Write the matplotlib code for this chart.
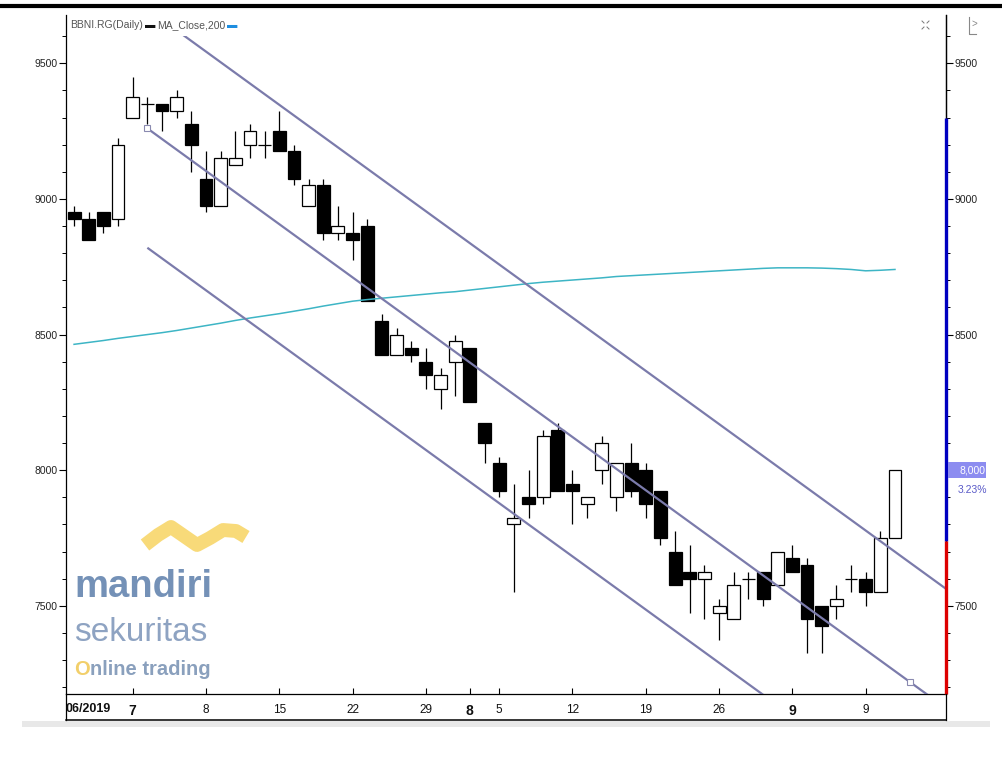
import matplotlib
matplotlib.use('Agg')
import matplotlib.pyplot as plt
from matplotlib.lines import Line2D
from matplotlib.patches import Rectangle
import numpy as np

# ---------------- data ----------------
opens  = [8950, 8925, 8950, 8925, 9300, 9350, 9350, 9325, 9275, 9075,
          8975, 9125, 9200, 9200, 9250, 9175, 8975, 9050, 8875, 8875,
          8900, 8550, 8425, 8450, 8400, 8300, 8400, 8450, 8175, 8025,
          7800, 7900, 7900, 8150, 7950, 7875, 8000, 7900, 8025, 8000,
          7925, 7700, 7625, 7600, 7475, 7450, 7600, 7625, 7575, 7675,
          7650, 7500, 7500, 7600, 7600, 7550, 7750]
highs  = [8975, 8950, 8950, 9225, 9450, 9375, 9350, 9400, 9325, 9175,
          9175, 9250, 9275, 9250, 9325, 9200, 9075, 9075, 8975, 8950,
          8925, 8575, 8525, 8475, 8450, 8375, 8500, 8450, 8175, 8050,
          7950, 8000, 8150, 8175, 8000, 7900, 8125, 8025, 8100, 8025,
          7925, 7775, 7725, 7650, 7525, 7625, 7625, 7625, 7700, 7725,
          7675, 7500, 7575, 7650, 7625, 7775, 8000]
lows   = [8900, 8850, 8875, 8900, 9300, 9275, 9250, 9300, 9100, 8950,
          8975, 9125, 9150, 9150, 9175, 9050, 8975, 8850, 8850, 8775,
          8625, 8425, 8425, 8400, 8300, 8225, 8275, 8250, 8025, 7900,
          7550, 7825, 7875, 7925, 7800, 7825, 7950, 7850, 7900, 7825,
          7725, 7575, 7475, 7450, 7375, 7450, 7525, 7500, 7575, 7625,
          7325, 7325, 7450, 7550, 7500, 7550, 7750]
closes = [8925, 8850, 8900, 9200, 9375, 9350, 9325, 9375, 9200, 8975,
          9150, 9150, 9250, 9200, 9175, 9075, 9050, 8875, 8900, 8850,
          8625, 8425, 8500, 8425, 8350, 8350, 8475, 8250, 8100, 7925,
          7825, 7875, 8125, 7925, 7925, 7900, 8100, 8025, 7925, 7875,
          7750, 7575, 7600, 7625, 7500, 7575, 7600, 7525, 7700, 7625,
          7450, 7425, 7525, 7600, 7550, 7750, 8000]
ma200  = [8464, 8471, 8478, 8486, 8493, 8500, 8507, 8515, 8524, 8533,
          8542, 8552, 8561, 8569, 8577, 8586, 8595, 8605, 8614, 8623,
          8629, 8634, 8639, 8644, 8649, 8654, 8658, 8664, 8670, 8676,
          8682, 8688, 8693, 8697, 8701, 8705, 8709, 8714, 8717, 8720,
          8723, 8726, 8729, 8732, 8735, 8738, 8741, 8744, 8746, 8746,
          8746, 8745, 8743, 8740, 8735, 8737, 8740]

xtick_idx    = [4, 9, 14, 19, 24, 27, 29, 34, 39, 44, 49, 54]
xtick_labels = ['7', '8', '15', '22', '29', '8', '5', '12', '19', '26', '9', '9']
xtick_month  = [True, False, False, False, False, True, False, False, False, False, True, False]
period_label = '06/2019'
yticks = [7500, 8000, 8500, 9000, 9500]

reg_start_idx, reg_start_price = 5, 9260
reg_end_idx, reg_end_price = 57, 7220
channel_offset = 440

last_price = 8000
last_price_label = '8,000'
last_change_label = '3.23%'
bar_blue = (7740, 9300)
bar_red = (7175, 7740)

legend_title = 'BBNI.RG(Daily)'
legend_ma = 'MA_Close,200'

# ---------------- figure ----------------
plt.rcParams['font.family'] = ['Liberation Sans', 'DejaVu Sans']

W, H = 1002, 776
fig = plt.figure(figsize=(W / 100, H / 100), dpi=100)
fig.patch.set_facecolor('white')


def fx(px):
    return px / W


def fy(py):
    return 1 - py / H


L, R, T, B = 66, 946, 15, 694
ax = fig.add_axes([fx(L), fy(B), (R - L) / W, (B - T) / H])
xmin, xmax = -0.55, 59.48
ymin, ymax = 7175, 9678
ax.set_xlim(xmin, xmax)
ax.set_ylim(ymin, ymax)

n = len(opens)
idx = np.arange(n)
o = np.array(opens, float)
c = np.array(closes, float)
up = c >= o
bottoms = np.minimum(o, c)
heights = np.abs(c - o)

ax.vlines(idx, lows, highs, color='black', lw=0.9, zorder=2)
ax.bar(idx[up], heights[up], bottom=bottoms[up], width=0.88,
       facecolor='white', edgecolor='black', lw=0.9, zorder=3)
ax.bar(idx[~up], heights[~up], bottom=bottoms[~up], width=0.88,
       facecolor='black', edgecolor='black', lw=0.9, zorder=3)

# moving average
ax.plot(idx, ma200, color='#3db5c5', lw=1.1, zorder=4)

# regression channel
slope = (reg_end_price - reg_start_price) / (reg_end_idx - reg_start_idx)
xs = np.array([reg_start_idx, xmax + 1])
mid = reg_start_price + slope * (xs - reg_start_idx)
chan_col = '#7b7bab'
for off in (channel_offset, 0, -channel_offset):
    ax.plot(xs, mid + off, color=chan_col, lw=1.6, zorder=4, solid_capstyle='butt')
ax.plot([reg_start_idx, reg_end_idx], [reg_start_price, reg_end_price], 's',
        ms=4, mfc='white', mec='#8a8ab0', mew=0.8, zorder=5)

# axes styling
ax.spines['top'].set_visible(False)
for s in ('left', 'right', 'bottom'):
    ax.spines[s].set_color('black')
    ax.spines[s].set_linewidth(0.9)

minor_ticks = np.arange(7200, 9700, 100)
ax.set_yticks(yticks)
ax.set_yticklabels([str(v) for v in yticks])
ax.set_yticks(minor_ticks, minor=True)
ax.tick_params(axis='y', which='major', direction='out', length=5, width=0.8,
               left=True, right=False, labelleft=True, labelright=False,
               labelsize=7.5, pad=1, labelcolor='#222222')
ax.tick_params(axis='y', which='minor', direction='out', length=3, width=0.7,
               left=True, right=False)

# right-hand price axis (the 8000 label is covered by the last-price box)
ax2 = ax.twinx()
ax2.set_ylim(ymin, ymax)
ax2.set_yticks(yticks)
ax2.set_yticklabels(['' if v == last_price else str(v) for v in yticks])
ax2.set_yticks(minor_ticks, minor=True)
ax2.tick_params(axis='y', which='major', direction='out', length=5, width=0.8,
                labelsize=7.5, pad=1, labelcolor='#222222')
ax2.tick_params(axis='y', which='minor', direction='out', length=3, width=0.7)
for s in ('top', 'left', 'bottom'):
    ax2.spines[s].set_visible(False)
ax2.spines['right'].set_linewidth(0.9)

ax.set_xticks(xtick_idx)
ax.set_xticklabels(xtick_labels)
ax.tick_params(axis='x', direction='in', length=4, width=0.8, pad=7,
               labelcolor='#111111')
for lab, m in zip(ax.get_xticklabels(), xtick_month):
    if m:
        lab.set_fontweight('bold')
        lab.set_fontsize(10)
    else:
        lab.set_fontsize(8.5)

# right coloured bar
ax2.plot([xmax, xmax], bar_blue, color='#0000c0', lw=2.4, clip_on=False,
         zorder=6, solid_capstyle='butt')
ax2.plot([xmax, xmax], bar_red, color='#dd0000', lw=2.4, clip_on=False,
         zorder=6, solid_capstyle='butt')
ax2.set_xlim(xmin, xmax)

# label box under x-axis
fig.add_artist(Line2D([fx(L), fx(L)], [fy(B), fy(720)], color='black', lw=0.9))
fig.add_artist(Line2D([fx(R), fx(R)], [fy(B), fy(720)], color='black', lw=0.9))
fig.add_artist(Line2D([fx(L), fx(R)], [fy(720), fy(720)], color='black', lw=1.1))
fig.text(fx(66), fy(709), period_label, ha='left', va='center', fontsize=9,
         fontweight='bold', color='#111111')

# grey scrollbar strip
fig.add_artist(Rectangle((fx(22), fy(727)), fx(990) - fx(22), fy(721) - fy(727),
                         transform=fig.transFigure, facecolor='#e8e8e8',
                         edgecolor='none'))

# top border
fig.add_artist(Line2D([0, 1], [fy(5.5), fy(5.5)], color='black', lw=3))

# legend area (white box hides channel line)
fig.add_artist(Rectangle((fx(68), fy(36)), fx(216) - fx(68), fy(15) - fy(36),
                         transform=fig.transFigure, facecolor='white',
                         edgecolor='none', zorder=5))
renderer = fig.canvas.get_renderer()


def chain(x, y, parts, **kw):
    for txt, col in parts:
        t = fig.text(x, y, txt, color=col, ha='left', va='center', zorder=6, **kw)
        bb = t.get_window_extent(renderer=renderer)
        x = bb.x1 / W + 2 / W


chain(fx(70), fy(25.5), [(legend_title, '#555555'), ('\u25ac', '#111111'),
                         (legend_ma, '#555555'), ('\u25ac', '#1e8ee0')],
      fontsize=7.5)

# price box on right
py = ax.transData.transform((0, last_price))[1]
fig.add_artist(Rectangle((fx(948), (py - 8) / H), fx(986) - fx(948), 16 / H,
                         transform=fig.transFigure, facecolor='#8c8cf0',
                         edgecolor='none'))
fig.text(fx(985), py / H, last_price_label, ha='right', va='center', fontsize=7.5,
         color='white')
fig.text(fx(987), (py - 20) / H, last_change_label, ha='right', va='center',
         fontsize=7.5, color='#5a5ac8')

# top right icons
for (x0, y0, dx, dy) in [(922, 21, 1, 1), (929, 21, -1, 1), (922, 29, 1, -1), (929, 29, -1, -1)]:
    fig.add_artist(Line2D([fx(x0), fx(x0 + 2 * dx)], [fy(y0), fy(y0 + 2 * dy)],
                          color='#777777', lw=0.7))
fig.add_artist(Line2D([fx(969), fx(969), fx(976)], [fy(17), fy(34), fy(34)],
                      color='#888888', lw=0.8))
fig.text(fx(971), fy(24), '>', fontsize=7, color='#888888', ha='left', va='center')

# watermark logo
wave_x = [145, 158, 171, 184, 197, 210, 223, 236, 246]
wave_y = [545, 535, 527, 536, 545, 538, 530, 531, 537]
fig.add_artist(Line2D([fx(v) for v in wave_x], [fy(v) for v in wave_y],
                      color='#f8d872', lw=10, solid_joinstyle='round',
                      solid_capstyle='butt', alpha=0.95))
fig.text(fx(74), fy(597), 'mandiri', fontsize=27.5, fontweight='bold',
         color='#7491b7', ha='left', va='baseline')
fig.text(fx(74), fy(641), 'sekuritas', fontsize=24, color='#8ea3c2',
         ha='left', va='baseline')
t1 = fig.text(fx(74), fy(675), 'O', fontsize=14.5, color='#f2cf6a',
              ha='left', va='baseline', fontweight='bold')
bb = t1.get_window_extent(renderer=renderer)
fig.text(bb.x1 / W, fy(675), 'nline trading', fontsize=14.5, color='#8aa0bd',
         ha='left', va='baseline', fontweight='bold')

fig.savefig('out.png', dpi=100, facecolor='white')
